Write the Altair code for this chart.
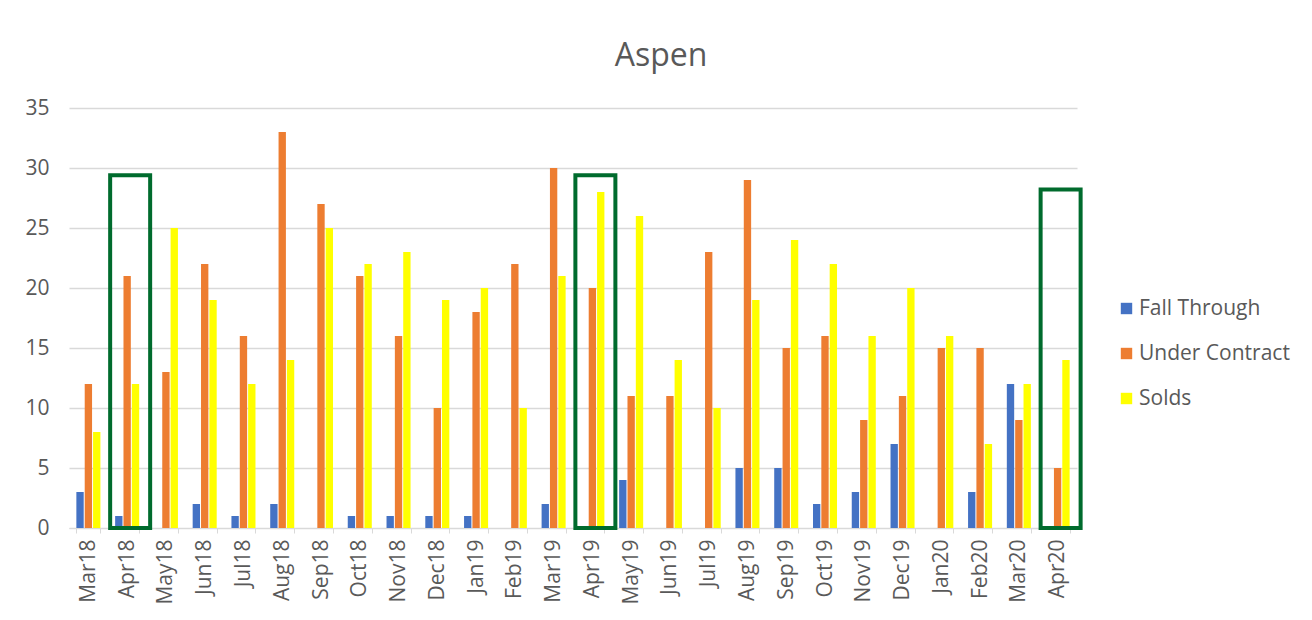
import altair as alt
import pandas as pd

months = ["Mar18", "Apr18", "May18", "Jun18", "Jul18", "Aug18", "Sep18", "Oct18",
          "Nov18", "Dec18", "Jan19", "Feb19", "Mar19", "Apr19", "May19", "Jun19",
          "Jul19", "Aug19", "Sep19", "Oct19", "Nov19", "Dec19", "Jan20", "Feb20",
          "Mar20", "Apr20"]
fall_through = [3, 1, 0, 2, 1, 2, 0, 1, 1, 1, 1, 0, 2, 0, 4, 0, 0, 5, 5, 2, 3, 7, 0, 3, 12, 0]
under_contract = [12, 21, 13, 22, 16, 33, 27, 21, 16, 10, 18, 22, 30, 20, 11, 11, 23, 29, 15, 16, 9, 11, 15, 15, 9, 5]
solds = [8, 12, 25, 19, 12, 14, 25, 22, 23, 19, 20, 10, 21, 28, 26, 14, 10, 19, 24, 22, 16, 20, 16, 7, 12, 14]
series = ["Fall Through", "Under Contract", "Solds"]
colors = ["#4472C4", "#ED7D31", "#FFFF00"]

# highlighted months (green boxes) and the height the boxes reach
box_months = ["Apr18", "Apr19", "Apr20"]
box_tops = [29.4, 29.4, 28.2]

rows = []
for i, m in enumerate(months):
    for s, vals in zip(series, [fall_through, under_contract, solds]):
        rows.append({"Month": m, "Series": s, "Value": vals[i]})
df = pd.DataFrame(rows)
boxes = pd.DataFrame({"Month": box_months, "Top": box_tops, "Base": [0] * len(box_months)})

FONT = "Open Sans"
GRAY = "#595959"
FS = 21

x_enc = alt.X("Month:N", sort=months, title=None,
              scale=alt.Scale(domain=months, paddingInner=0.38, paddingOuter=0.19),
              axis=alt.Axis(labelAngle=-90, labelFont=FONT, labelFontSize=FS,
                            labelColor=GRAY, labelPadding=6, domainColor="#D9D9D9",
                            tickColor="#D9D9D9", tickSize=5, tickBand="extent",
                            labelBaseline="middle"))

bars = alt.Chart(df).mark_bar().encode(
    x=x_enc,
    xOffset=alt.XOffset("Series:N", sort=series,
                        scale=alt.Scale(domain=series, paddingInner=0.12)),
    y=alt.Y("Value:Q", title=None,
            scale=alt.Scale(domain=[0, 35]),
            axis=alt.Axis(values=[0, 5, 10, 15, 20, 25, 30, 35], labelFont=FONT,
                          labelFontSize=FS, labelColor=GRAY, domain=False, ticks=False,
                          labelPadding=20, gridColor="#D9D9D9", gridWidth=1.5)),
    color=alt.Color("Series:N", sort=series,
                    scale=alt.Scale(domain=series, range=colors),
                    legend=alt.Legend(title=None, orient="none", legendX=1047, legendY=190,
                                      symbolType="square", symbolSize=130,
                                      symbolStrokeWidth=0,
                                      labelFont=FONT, labelFontSize=FS, labelColor=GRAY,
                                      rowPadding=23, labelOffset=2, padding=0)),
)

box_layer = alt.Chart(boxes).mark_bar(width=40, xOffset=3, fillOpacity=0, stroke="#006B2D",
                                       strokeWidth=4).encode(
    x=alt.X("Month:N", sort=months),
    y=alt.Y("Top:Q"),
    y2="Base:Q",
)

chart = alt.layer(bars, box_layer).properties(
    width=1008,
    height=420,
    title=alt.TitleParams("Aspen", font=FONT, fontSize=32, fontWeight="normal",
                          color=GRAY, anchor="middle", dx=88, offset=24),
    padding={"left": 61, "top": 100, "right": 225, "bottom": 84},
    autosize=alt.AutoSizeParams(type="none"),
).configure_view(stroke=None)

chart.save("out.html", embed_options={"renderer": "svg", "actions": False})
